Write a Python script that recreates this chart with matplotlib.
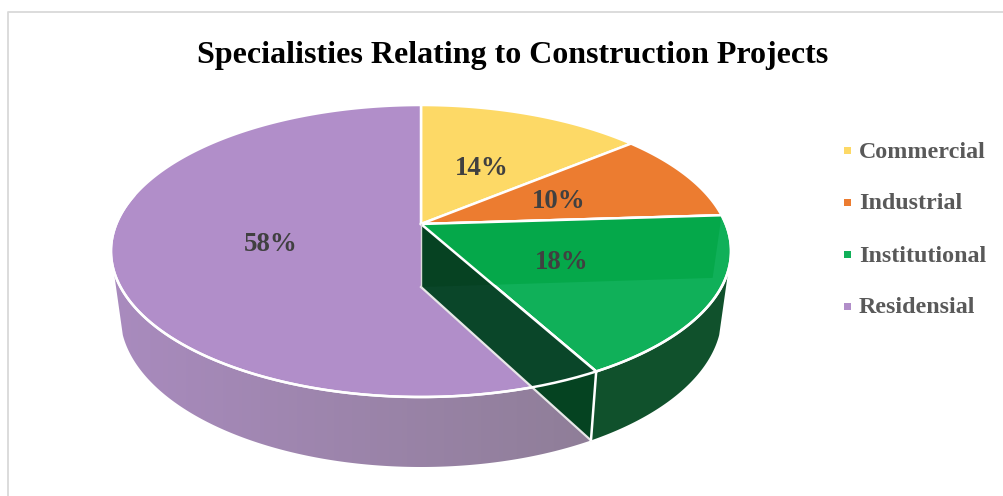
import numpy as np
import matplotlib
matplotlib.use("Agg")
import matplotlib.pyplot as plt
from matplotlib.patches import Polygon, Rectangle

categories = ["Commercial", "Industrial", "Institutional", "Residensial"]
shares = [14, 10, 18, 58]
labels = ["14%", "10%", "18%", "58%"]
colors = ["#fdd966", "#ec7c30", "#10b059", "#b18ec9"]

W, H = 1004, 496

# perspective of the pie disc, top face and bottom face
CX = 421
TOP = dict(y0=224, a=141.0, b=304.7, k=0.185)
BOTTOM = dict(y0=287, a=146.7, b=295.6, k=0.185)


def project(theta, r, face):
    u = r * np.sin(np.radians(theta))
    v = r * np.cos(np.radians(theta))
    w = 1 + face["k"] * v
    return np.column_stack([CX + face["b"] * u / w, face["y0"] - face["a"] * v / w])


def arc(start, end, face, r=1.0):
    n = max(int(abs(end - start)) * 2, 2)
    return project(np.linspace(start, end, n), r, face)


plt.rcParams["font.family"] = ["Liberation Serif", "DejaVu Serif"]
fig = plt.figure(figsize=(W / 100, H / 100), dpi=100)
ax = fig.add_axes([0, 0, 1, 1])
ax.axis("off")

# chart frame
ax.plot([8, 8, W], [H, 12, 12], color="#d9d9d9", lw=1.3, zorder=1)

edges = np.cumsum([0] + shares) * 3.6

# side walls
wall_end = 252
wall_start = 108
t_green = edges[3]
ax.add_patch(Polygon(np.vstack([arc(wall_start, t_green, TOP), arc(t_green, wall_start, BOTTOM)]),
                     fc="#10512c", ec="none", zorder=2))

purple_wall = Polygon(np.vstack([arc(t_green, wall_end, TOP), arc(wall_end, t_green, BOTTOM)]),
                      fc="none", ec="none", zorder=2, transform=ax.transData)
ax.add_patch(purple_wall)
left = np.array(matplotlib.colors.to_rgb("#a98bbe"))
right = np.array(matplotlib.colors.to_rgb("#8f7e98"))
ramp = np.linspace(0, 1, 256)[None, :, None]
gradient = left[None, None, :] * (1 - ramp) + right[None, None, :] * ramp
img = ax.imshow(gradient, extent=[112, 592, H, 0], aspect="auto", zorder=2, interpolation="bilinear")
img.set_clip_path(purple_wall)

ax.set_xlim(0, W)
ax.set_ylim(H, 0)

# top face slices
apex = project(np.array([0.0]), 0.0, TOP)
for i, col in enumerate(colors):
    pts = np.vstack([apex, arc(edges[i], edges[i + 1], TOP)])
    ax.add_patch(Polygon(pts, fc=col, ec="white", lw=1.8, joinstyle="round", zorder=3))

# inner cut faces showing through the top of the green slice
base = project(np.array([0.0]), 0.0, BOTTOM)
p24_top = project(np.array([edges[2]]), 1.0, TOP)
p24_bot = project(np.array([edges[2]]), 1.0, BOTTOM)
p42_top = project(np.array([edges[3]]), 1.0, TOP)
p42_bot = project(np.array([edges[3]]), 1.0, BOTTOM)
ax.add_patch(Polygon(np.vstack([apex, p24_top, p24_bot, base]), fc="#05a84a", ec="none", zorder=4))
ax.plot(*np.vstack([apex, p24_top]).T, color="white", lw=1.8, zorder=6)

face = Polygon(np.vstack([apex, p42_top, p42_bot, base]), fc="#0a4629", ec="none", zorder=5)
ax.add_patch(face)
# darker part of the cut face above the back edge and below the rim
ax.add_patch(Polygon(np.vstack([apex, p24_top, p24_bot, base]), fc="#064222", ec="none", zorder=5.1, clip_path=face))
shade = np.vstack([arc(edges[3], edges[3] + 60, TOP), p42_bot])
ax.add_patch(Polygon(shade, fc="#054321", ec="none", zorder=5.1, clip_path=face))

ax.plot(*np.vstack([apex, p42_top]).T, color="white", lw=1.8, zorder=6)
ax.plot(*np.vstack([base, p42_bot]).T, color="#e8e8e8", lw=1.6, zorder=6)
ax.plot(*np.vstack([apex, base]).T, color="#dcdcdc", lw=1.0, zorder=6)
ax.plot(*np.vstack([p42_top, p42_bot]).T, color="white", lw=1.8, zorder=6)
ax.plot(*arc(edges[2], wall_end + 30, TOP).T, color="white", lw=1.8, zorder=6)

# percent labels, halfway along each slice
for i, lab in enumerate(labels):
    mid = (edges[i] + edges[i + 1]) / 2
    x, y = project(np.array([mid]), 0.5, TOP)[0]
    ax.text(x + 0.5, y + 3, lab, color="#404040", fontsize=19.4, fontweight="bold", ha="center", va="center", zorder=7)

ax.text(512.5, 55, "Specialisties Relating to Construction Projects", color="black",
        fontsize=23, fontweight="bold", ha="center", va="center", zorder=7)

# legend
legend_y = [150, 201.5, 254, 305.5]
for name, col, y in zip(categories, colors, legend_y):
    ax.add_patch(Rectangle((844, y - 3), 7, 7, fc=col, ec="none", zorder=7))
    ax.text(859, y + 2, name, color="#595959", fontsize=17.3, fontweight="bold", ha="left", va="center", zorder=7)

fig.savefig("out.png", dpi=100)
